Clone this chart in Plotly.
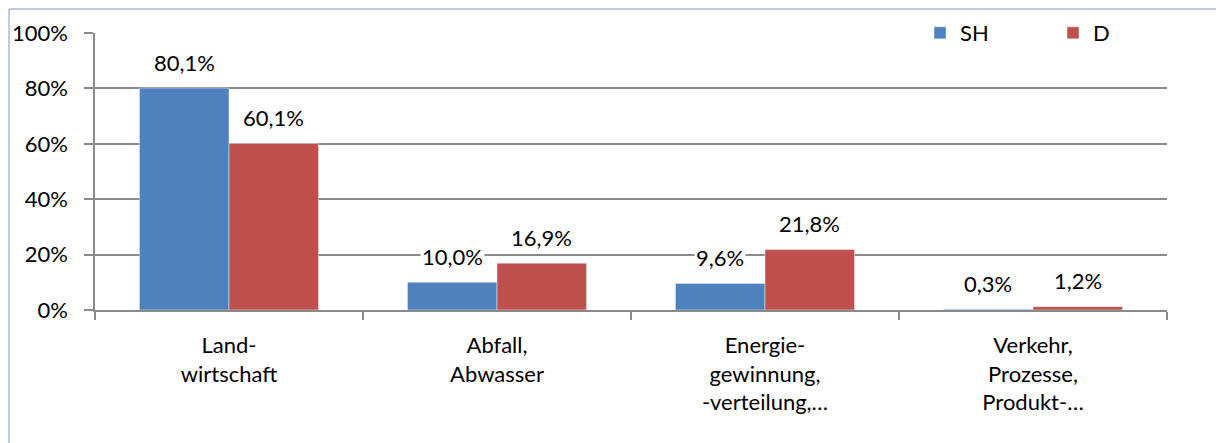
import plotly.graph_objects as go

# Data
categories = ["Land-<br>wirtschaft", "Abfall,<br>Abwasser",
              "Energie-<br>gewinnung,<br>-verteilung,…",
              "Verkehr,<br>Prozesse,<br>Produkt-…"]
sh_values = [80.1, 10.0, 9.6, 0.3]
d_values = [60.1, 16.9, 21.8, 1.2]
y_ticks = [0, 20, 40, 60, 80, 100]

BLUE = "#4F81BD"
RED = "#C0504D"
GRID = "#8a8a8a"
FONT = "Lato"
FS = 22


def fmt(v):
    return f"{v:.1f}".replace(".", ",") + "%"


x_idx = list(range(len(categories)))

fig = go.Figure()
fig.add_trace(go.Bar(x=x_idx, y=sh_values, name="SH", marker_color=BLUE))
fig.add_trace(go.Bar(x=x_idx, y=d_values, name="D", marker_color=RED))

# value labels with white background, like Excel data labels
bargap = 0.332
half = (1 - bargap) / 4
annotations = []
for i in x_idx:
    for vals, off in ((sh_values, -half), (d_values, half)):
        annotations.append(dict(
            x=i + off, y=vals[i], xref="x", yref="y",
            text=fmt(vals[i]), showarrow=False,
            yanchor="middle", yshift=26,
            bgcolor="white", font=dict(family=FONT, size=FS, color="black"),
        ))

# page body has an 8px margin, so the plot area is placed accordingly
fig.update_layout(
    width=1224, height=443,
    margin=dict(l=87, r=65, t=25, b=141, autoexpand=False),
    paper_bgcolor="white", plot_bgcolor="white",
    barmode="group", bargap=bargap, bargroupgap=0,
    font=dict(family=FONT, size=FS, color="black"),
    annotations=annotations,
    showlegend=True,
    legend=dict(orientation="h", x=(920 - 95) / 1072, xanchor="left",
                y=1, yanchor="middle", bgcolor="rgba(0,0,0,0)",
                entrywidth=88, font=dict(family=FONT, size=FS)),
    shapes=[
        # white box of the legend covering the top gridline
        dict(type="rect", xref="paper", yref="paper",
             x0=(848 - 95) / 1072, x1=1.0, y0=1 - 12 / 277, y1=1 + 12 / 277,
             fillcolor="white", line_width=0, layer="between"),
        # outer chart border
        dict(type="rect", xref="paper", yref="paper",
             x0=(9 - 95) / 1072, x1=(1240 - 95) / 1072,
             y0=-(140 / 277), y1=1 + 24 / 277,
             line=dict(color="#8496b8", width=1), fillcolor="rgba(0,0,0,0)"),
    ],
)

fig.update_yaxes(
    range=[0, 100], tickvals=y_ticks, ticktext=[f"{t}%" for t in y_ticks],
    showgrid=True, gridcolor=GRID, gridwidth=1.5,
    showline=True, linecolor=GRID, linewidth=1.5,
    ticks="outside", ticklen=9, tickcolor=GRID, tickwidth=1.5,
    ticklabelstandoff=12, zeroline=False, automargin=False,
)
fig.update_xaxes(
    type="category", tickvals=x_idx, ticktext=categories,
    showgrid=False, showline=True, linecolor=GRID, linewidth=1.5,
    ticks="outside", ticklen=8, tickcolor=GRID, tickwidth=1.5,
    tickson="boundaries", ticklabelstandoff=15, automargin=False,
)

fig.write_html("out.html")
